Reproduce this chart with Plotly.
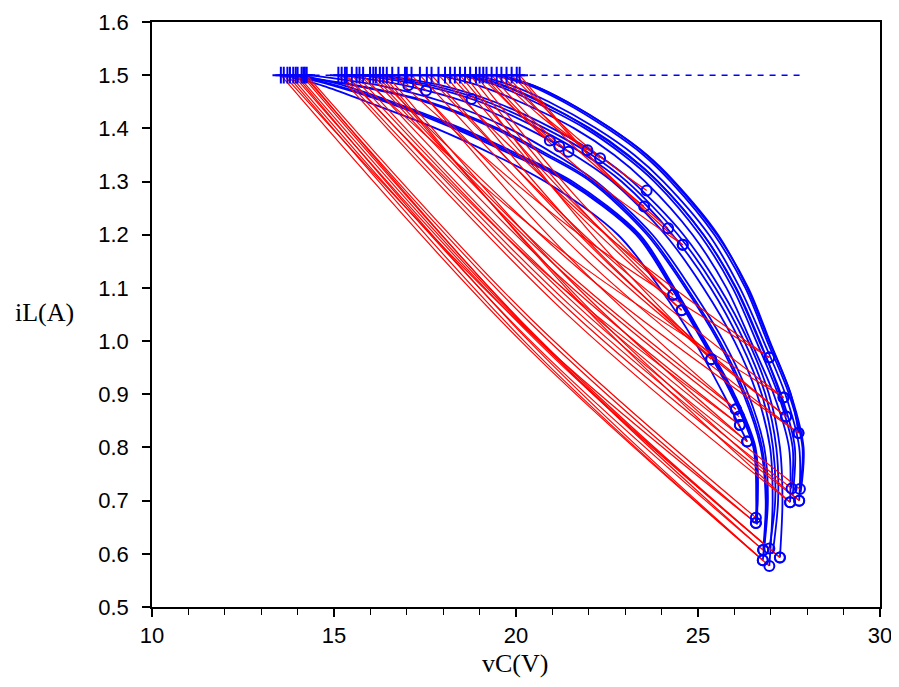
import plotly.graph_objects as go

# ---------------- data ----------------
I_REF = 1.5                      # switching reference current iL = 1.5 A
ref_line_x = [13.45, 27.8]       # dashed reference line extent

# red segments: start vC at iL=1.5, a mid point, and the end point (circle)
red_x0 = [13.54, 13.72, 13.79, 13.88, 14.11, 14.16, 14.25, 13.62, 14.20, 13.95, 14.00,
          15.12, 15.21, 15.35, 15.49, 15.62, 15.80, 15.99, 16.08, 16.26, 16.35, 16.45,
          15.30, 15.70, 16.60, 16.15, 17.00,
          16.77, 17.13, 18.19, 16.95, 17.36, 17.55, 17.87, 18.05, 18.32, 18.46, 17.68, 18.60, 18.74,
          18.90, 19.00,
          19.10, 19.19, 19.33, 19.47, 19.60, 19.74, 19.88, 20.02, 20.10]
red_xm = [20.16, 20.34, 20.29, 20.57, 20.54, 20.38, 20.42, 20.10, 20.50, 20.37, 20.625,
          21.33, 21.50, 21.46, 21.65, 20.99, 20.98, 21.06, 21.06, 22.02, 21.94, 21.40,
          20.725, 21.525, 21.78, 21.955, 21.52,
          16.905, 17.33, 18.485, 22.36, 22.39, 22.45, 22.42, 21.71, 21.44, 21.39, 22.55, 21.98, 21.65,
          21.61, 21.79,
          20.015, 20.19, 20.385, 20.715, 20.955, 21.63, 21.735, 22.10, 22.34]
red_ym = [0.998, 0.992, 1.008, 1.000, 1.010, 1.035, 1.041, 1.034, 1.010, 0.999, 1.000,
          1.055, 1.056, 1.069, 1.068, 1.118, 1.135, 1.1435, 1.151, 1.060, 1.059, 1.120,
          1.133, 1.156, 1.1985, 1.1225, 1.154,
          1.4905, 1.4855, 1.4775, 1.126, 1.144, 1.163, 1.203, 1.207, 1.257, 1.273, 1.145, 1.209, 1.259,
          1.2745, 1.321,
          1.4325, 1.426, 1.421, 1.4205, 1.4125, 1.3635, 1.3785, 1.3415, 1.325]
red_x1 = [26.78, 26.96, 26.79, 27.25, 26.96, 26.59, 26.59, 26.59, 26.79, 26.78, 27.25,
          27.53, 27.78, 27.57, 27.80, 26.35, 26.15, 26.13, 26.04, 27.78, 27.53, 26.35,
          26.15, 27.35, 26.96, 27.76, 26.04,
          17.04, 17.53, 18.78, 27.76, 27.42, 27.35, 26.96, 25.36, 24.55, 24.32, 27.42, 25.36, 24.55,
          24.32, 24.58,
          20.93, 21.19, 21.44, 21.96, 22.31, 23.52, 23.59, 24.18, 24.58]
red_y1 = [0.588, 0.577, 0.607, 0.593, 0.610, 0.658, 0.668, 0.658, 0.607, 0.588, 0.593,
          0.697, 0.700, 0.723, 0.722, 0.811, 0.842, 0.858, 0.872, 0.700, 0.697, 0.811,
          0.842, 0.894, 0.969, 0.827, 0.872,
          1.481, 1.471, 1.455, 0.827, 0.858, 0.894, 0.969, 0.966, 1.058, 1.087, 0.858, 0.966, 1.058,
          1.087, 1.181,
          1.377, 1.366, 1.356, 1.359, 1.344, 1.253, 1.283, 1.212, 1.181]

# blue arcs: start point, then vC at the top-most iL levels below
blue_levels = [0.70, 0.80, 0.90, 1.00, 1.10, 1.20, 1.30, 1.35, 1.40, 1.45, 1.48, 1.50]
blue_start_x = [26.59, 26.62, 26.59, 26.35, 26.79, 26.80, 26.78, 26.96, 26.96, 27.05, 27.25,
                27.80, 27.82, 27.78, 27.57, 27.60, 27.53, 27.76, 27.42]
blue_start_y = [0.658, 0.655, 0.668, 0.811, 0.607, 0.600, 0.588, 0.577, 0.610, 0.600, 0.593,
                0.722, 0.715, 0.700, 0.723, 0.710, 0.697, 0.827, 0.858]
blue_arc_x = [
    [26.60, 26.52, 25.92, 25.12, 24.27, 23.30, 21.40, 19.90, 18.30, 16.40, 15.00, 13.80],
    [26.63, 26.55, 25.96, 25.16, 24.31, 23.35, 21.47, 20.00, 18.40, 16.50, 15.10, 13.90],
    [26.64, 26.58, 26.00, 25.20, 24.35, 23.40, 21.55, 20.10, 18.50, 16.60, 15.30, 14.10],
    [25.70, 24.90, 23.95, 22.80, 20.80, 19.40, 17.80, 15.90, 14.70, 13.60],
    [26.86, 26.72, 26.25, 25.55, 24.65, 23.60, 22.05, 20.80, 19.40, 17.50, 15.60, 13.60],
    [26.88, 26.76, 26.30, 25.60, 24.70, 23.66, 22.12, 20.90, 19.50, 17.60, 15.70, 13.70],
    [26.92, 26.82, 26.38, 25.70, 24.80, 23.75, 22.20, 21.10, 19.80, 18.00, 16.30, 14.30],
    [27.05, 26.98, 26.62, 26.00, 25.15, 24.10, 22.65, 21.60, 20.30, 18.60, 17.00, 15.20],
    [27.12, 27.06, 26.75, 26.15, 25.35, 24.30, 22.90, 21.90, 20.60, 19.00, 17.50, 15.70],
    [27.20, 27.15, 26.85, 26.27, 25.48, 24.45, 23.05, 22.08, 20.80, 19.20, 17.75, 16.00],
    [27.32, 27.25, 26.95, 26.38, 25.60, 24.60, 23.20, 22.25, 21.00, 19.40, 18.00, 16.30],
    [27.87, 27.50, 26.90, 26.30, 25.45, 24.25, 23.50, 22.50, 21.30, 20.40, 19.40],
    [27.90, 27.55, 26.97, 26.38, 25.52, 24.32, 23.58, 22.60, 21.40, 20.50, 19.50],
    [27.78, 27.40, 26.80, 26.15, 25.30, 24.05, 23.25, 22.20, 20.90, 19.90, 18.90],
    [27.60, 27.20, 26.60, 25.95, 25.05, 23.80, 22.95, 21.90, 20.50, 19.50, 18.50],
    [27.66, 27.28, 26.68, 26.03, 25.15, 23.90, 23.08, 22.03, 20.65, 19.65, 18.65],
    [27.50, 27.08, 26.45, 25.78, 24.85, 23.55, 22.70, 21.60, 20.10, 19.00, 17.90],
    [27.55, 26.95, 26.35, 25.55, 24.35, 23.60, 22.60, 21.40, 20.50, 19.60],
    [27.25, 26.70, 26.05, 25.15, 23.90, 23.05, 22.00, 20.70, 19.70, 18.70],
]

x_ticks = [10, 15, 20, 25, 30]
y_ticks = [0.5, 0.6, 0.7, 0.8, 0.9, 1.0, 1.1, 1.2, 1.3, 1.4, 1.5, 1.6]

RED = "#ff0000"
BLUE = "#0000ff"

fig = go.Figure()

# blue arcs
for i in range(len(blue_arc_x)):
    xs = blue_arc_x[i]
    lv = blue_levels[len(blue_levels) - len(xs):]
    fig.add_trace(go.Scatter(
        x=[blue_start_x[i]] + xs, y=[blue_start_y[i]] + lv,
        mode="lines", line=dict(color=BLUE, width=1.8, shape="spline", smoothing=0.9),
        hoverinfo="skip", showlegend=False))

# red segments (drawn over the arcs, as in the reference)
for i in range(len(red_x0)):
    fig.add_trace(go.Scatter(
        x=[red_x0[i], red_xm[i], red_x1[i]], y=[I_REF, red_ym[i], red_y1[i]],
        mode="lines", line=dict(color=RED, width=1.2, shape="spline"),
        hoverinfo="skip", showlegend=False))

# dashed reference line
fig.add_trace(go.Scatter(
    x=ref_line_x, y=[I_REF, I_REF], mode="lines",
    line=dict(color=BLUE, width=1.5, dash="6px,6px"),
    hoverinfo="skip", showlegend=False))

# '+' markers at switching instants
fig.add_trace(go.Scatter(
    x=red_x0, y=[I_REF] * len(red_x0), mode="markers",
    marker=dict(symbol="cross-thin", size=12, line=dict(color=BLUE, width=2)),
    hoverinfo="skip", showlegend=False))

# circle markers at the ends of red segments
fig.add_trace(go.Scatter(
    x=red_x1, y=red_y1, mode="markers",
    marker=dict(symbol="circle-open", size=10, color=BLUE, line=dict(color=BLUE, width=2)),
    hoverinfo="skip", showlegend=False))

axis_font = dict(family="Liberation Sans, Arial, sans-serif", size=22, color="black")

fig.update_layout(
    width=899, height=687,
    margin=dict(l=144, r=27, t=14, b=88),
    paper_bgcolor="white", plot_bgcolor="white",
    xaxis=dict(range=[10, 30], tickvals=x_ticks, ticks="outside", ticklen=8, tickwidth=1.5,
               tickcolor="black", showgrid=False, zeroline=False, showline=True,
               linecolor="black", linewidth=1.5, mirror=True, tickfont=axis_font,
               automargin=False,
               minor=dict(dtick=1, ticks="outside", ticklen=6, tickwidth=1.2, tickcolor="black",
                          showgrid=False)),
    yaxis=dict(range=[0.5, 1.6], tickvals=y_ticks, tickformat=".1f", ticks="outside",
               ticklen=8, tickwidth=1.5, tickcolor="black", showgrid=False, zeroline=False,
               showline=True, linecolor="black", linewidth=1.5, mirror=True,
               tickfont=axis_font, ticklabelstandoff=9, automargin=False),
    annotations=[
        dict(text="iL(A)", xref="paper", yref="paper", x=-0.147, y=0.5026,
             xanchor="center", yanchor="middle", showarrow=False,
             font=dict(family="Liberation Serif, Times New Roman, serif", size=26, color="black")),
        dict(text="vC(V)", xref="paper", yref="paper", x=0.498, y=-0.096,
             xanchor="center", yanchor="middle", showarrow=False,
             font=dict(family="Liberation Serif, Times New Roman, serif", size=26, color="black")),
    ],
)

fig.write_html("out.html")
